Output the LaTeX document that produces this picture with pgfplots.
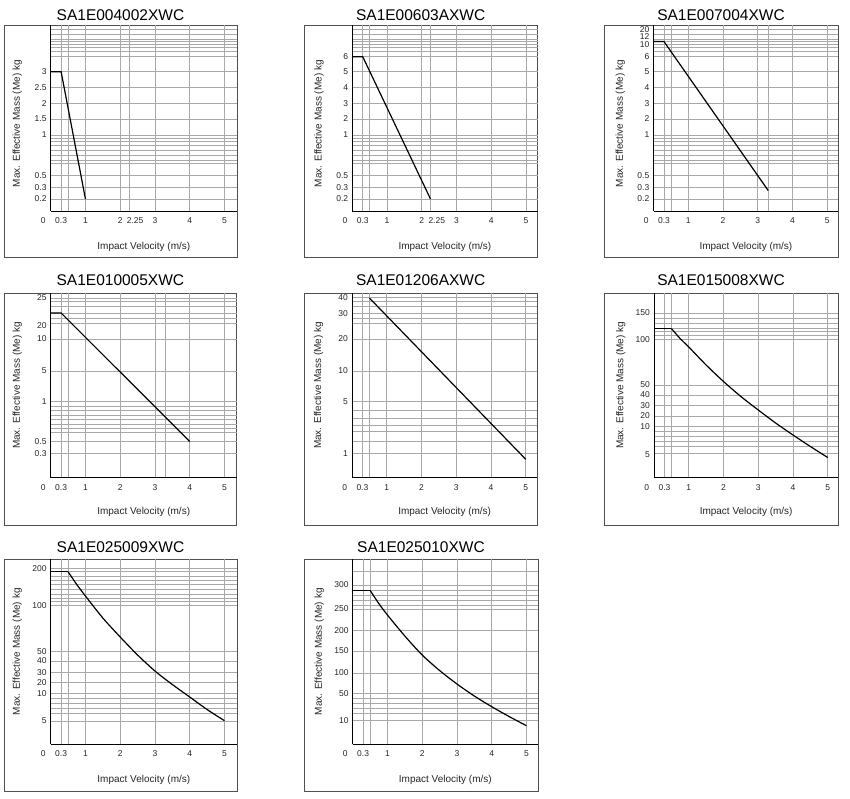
\documentclass[border=0pt]{standalone}
\usepackage{pgfplots}
\pgfplotsset{compat=1.18}
\usepackage{fontspec}
\setmainfont{Liberation Sans}
\definecolor{gridgray}{HTML}{A8A8A8}
\definecolor{framegray}{HTML}{505050}
\pgfplotsset{
  panel/.style={
    scale only axis, anchor=south west,
    axis x line=bottom, axis y line=left,
    axis line style={-, black, line width=0.9pt},
    major tick length=0pt, minor tick length=0pt,
    xmajorgrids=true, xminorgrids=true, ymajorgrids=false, yminorgrids=true,
    major grid style={gridgray, line width=0.75pt},
    minor grid style={gridgray, line width=0.75pt},
    xmin=0, ymin=0,
    ticklabel style={font=\fontsize{8.5}{10}\selectfont, text=black!85},
    xticklabel style={anchor=north, inner sep=0pt, yshift=-6.5pt},
    yticklabel style={anchor=east, inner sep=0pt, xshift=-4pt},
    xlabel={Impact Velocity (m/s)},
    ylabel={Max. Effective Mass (Me) kg},
    label style={font=\fontsize{10}{12}\selectfont, text=black!85},
    xlabel style={anchor=center},
    ylabel style={anchor=center},
  },
  row1/.style={height=186pt, ymax=186,
    xlabel style={at={(axis description cs:0.5,-0.195)}},
    ylabel style={at={(axis description cs:-0.18,0.47)}}},
  row2/.style={height=184.4pt, ymax=184.4,
    xlabel style={at={(axis description cs:0.5,-0.188)}},
    ylabel style={at={(axis description cs:-0.18,0.5)}}},
  row3/.style={height=185pt, ymax=185,
    xlabel style={at={(axis description cs:0.5,-0.19)}},
    ylabel style={at={(axis description cs:-0.18,0.5)}}},
  xa/.style={xtick={0,0.3,1,2,2.25,3,4,5},
    xticklabels={\llap{0\hspace{5pt}},0.3,1,2,\rlap{\hspace{-2pt}2.25},3,4,5},
    minor xtick={0.5}},
  xb/.style={xtick={0,0.3,1,2,3,4,5},
    xticklabels={\llap{0\hspace{5pt}},0.3,1,2,3,4,5},
    minor xtick={0.5,3.3}},
  xc/.style={xtick={0,0.3,1,2,3,4,5},
    xticklabels={\llap{0\hspace{5pt}},0.3,1,2,3,4,5},
    minor xtick={0.5}},
  gridA/.style={minor ytick={182,176.5,172,169.3,166.7,164,159.3,154.3,139.3,123.3,107.7,92,76,72.3,69.3,65.3,61,56,51,47.5,35.3,23.7,12}},
  curve/.style={black, line width=1.2pt},
}
\newcommand{\ttl}[3]{\node[font=\fontsize{15.5}{18}\selectfont, anchor=center] at (#1pt,-#2pt) {#3};}
\begin{document}
\begin{tikzpicture}
\path[use as bounding box] (0pt,0pt) rectangle (850pt,-799pt);
% frames
\begin{scope}[framegray, line width=0.9pt]
\draw (4pt,-25pt) rectangle (237pt,-257.5pt);
\draw (304pt,-25pt) rectangle (537.5pt,-257.5pt);
\draw (604pt,-25pt) rectangle (838.3pt,-257.5pt);
\draw (4pt,-293.3pt) rectangle (236.7pt,-525.5pt);
\draw (304pt,-293.3pt) rectangle (537.3pt,-525.5pt);
\draw (604pt,-293.3pt) rectangle (838.3pt,-525.5pt);
\draw (4pt,-559.3pt) rectangle (237pt,-791.7pt);
\draw (304pt,-559.3pt) rectangle (538pt,-791.7pt);
\end{scope}
% titles
\ttl{120.5}{15}{SA1E004002XWC}
\ttl{420.7}{15}{SA1E00603AXWC}
\ttl{721}{15}{SA1E007004XWC}
\ttl{120.4}{280.5}{SA1E010005XWC}
\ttl{420.7}{280.5}{SA1E01206AXWC}
\ttl{721}{280.5}{SA1E015008XWC}
\ttl{120.5}{547}{SA1E025009XWC}
\ttl{421}{547}{SA1E025010XWC}

% ---------- Panel 1
\begin{axis}[panel, row1, xa, gridA, at={(50.7pt,-211pt)}, width=186.3pt, xmax=5.361,
  ytick={139.3,123.3,107.7,92,76,35.3,23.7,12},
  yticklabels={3,2.5,2,1.5,1,0.5,0.3,0.2}]
\addplot[curve] coordinates {(0,139.3) (0.3,139.3) (1,12)};
\end{axis}
% ---------- Panel 2
\begin{axis}[panel, row1, xa, gridA, at={(352.3pt,-211pt)}, width=185.2pt, xmax=5.329,
  ytick={154.3,139.3,123.3,107.7,92,76,35.3,23.7,12},
  yticklabels={6,5,4,3,2,1,0.5,0.3,0.2}]
\addplot[curve] coordinates {(0,154.3) (0.3,154.3) (2.25,12)};
\end{axis}
% ---------- Panel 3
\begin{axis}[panel, row1, xb, gridA, at={(653.5pt,-211pt)}, width=184.8pt, xmax=5.318,
  ytick={181.5,174,166,154.3,139.3,123.3,107.7,92,76,35.3,23.7,12},
  yticklabels={20,12,10,6,5,4,3,2,1,0.5,0.3,0.2}]
\addplot[curve] coordinates {(0,169.5) (0.3,169.5) (3.3,20.5)};
\end{axis}

% ---------- Panel 4
\begin{axis}[panel, row2, xb, at={(50.7pt,-477.7pt)}, width=186pt, xmax=5.353,
  minor ytick={179.7,176,171,164.7,159.7,154.2,138.7,106.7,76.7,71.7,67,62.7,58.2,53.2,49.7,45.7,36.2,24.2},
  ytick={179.7,152.2,138.7,106.7,75.7,36.2,23.7},
  yticklabels={25,20,10,5,1,0.5,0.3}]
\addplot[curve] coordinates {(0,164.7) (0.3,164.7) (4,36.2)};
\end{axis}
% ---------- Panel 5
\begin{axis}[panel, row2, xc, at={(352pt,-477.7pt)}, width=185.3pt, xmax=5.332,
  minor ytick={180,176,171,164.4,159.4,154.4,138.7,106.7,76.7,67,59.4,52.7,46,36,24.4},
  ytick={179.7,164.2,138.7,106.7,76.2,24.2},
  yticklabels={40,30,20,10,5,1}]
\addplot[curve] coordinates {(0.5,179.7) (5,18.4)};
\end{axis}
% ---------- Panel 6
\begin{axis}[panel, row2, xc, at={(654pt,-477.7pt)}, width=184.3pt, xmax=5.304,
  minor ytick={164.7,159.7,154.7,149.2,146.2,142.7,138.7,92.7,82.7,72.2,61.7,51.2,46.2,41.2,36.2,31.2,24.2},
  ytick={164.7,138.2,92.7,82.7,72.2,61.7,51.2,23.2},
  yticklabels={150,100,50,40,30,20,10,5}]
\addplot[curve] coordinates {(0,149.2) (0.5,149.2)};
\addplot[curve, smooth] coordinates {(0.5,149.2) (0.75,139.2) (1,130.7) (1.5,112.7) (2,96.2) (2.5,81.2) (3,67.7) (3.5,54.7) (4,42.7) (4.5,31.2) (5,20.2)};
\end{axis}

% ---------- Panel 7
\begin{axis}[panel, row3, xc, at={(50.7pt,-744.3pt)}, width=186.3pt, xmax=5.361,
  minor ytick={176,172.6,168.3,164.3,160,155,150.3,146,142.6,139,92.6,83.3,71.6,61.6,51,46,41,36,31,23.3},
  ytick={175.8,139,92.6,83.3,71.6,61.6,51,23.3},
  yticklabels={200,100,50,40,30,20,10,5}]
\addplot[curve] coordinates {(0,172.6) (0.5,172.6)};
\addplot[curve, smooth] coordinates {(0.5,172.6) (0.75,159.8) (1,148.3) (1.5,126.3) (2,107.3) (2.5,89.3) (3,73.3) (3.5,59.8) (4,47.3) (4.5,34.8) (5,23.6)};
\end{axis}
% ---------- Panel 8
\begin{axis}[panel, row3, xc, at={(352.7pt,-744.3pt)}, width=185.3pt, xmax=5.332,
  minor ytick={172.6,159.3,154.3,149.3,144.3,139.3,135.3,113.8,93.3,71.3,51,46,41,36,31,23.6},
  ytick={159.3,135.3,113.8,93.3,71.3,50.8,23.6},
  yticklabels={300,250,200,150,100,50,10}]
\addplot[curve] coordinates {(0,154) (0.5,154)};
\addplot[curve, smooth] coordinates {(0.5,154) (0.75,140.8) (1,129.3) (1.5,108.3) (2,89.3) (2.5,73.8) (3,60.3) (3.5,48.3) (4,37.6) (4.5,27.8) (5,18.6)};
\end{axis}
\end{tikzpicture}
\end{document}
